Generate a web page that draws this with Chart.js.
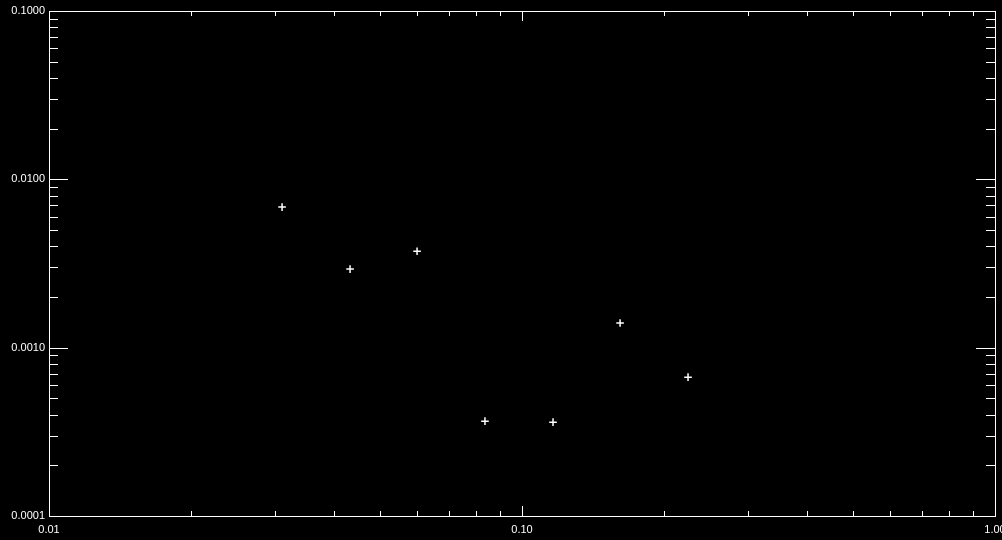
<!DOCTYPE html>
<html>
<head>
<meta charset="utf-8">
<script src="https://cdn.jsdelivr.net/npm/chart.js@4"></script>
<style>
html,body{margin:0;padding:0;background:#000;}
#wrap{width:1002px;height:540px;}
</style>
</head>
<body>
<div id="wrap"><canvas id="c"></canvas></div>
<script>
// Data
const xValues = [0.0311, 0.0433, 0.0600, 0.0835, 0.1163, 0.1612, 0.2244];
const yValues = [0.00684, 0.00293, 0.00374, 0.000366, 0.000361, 0.00140, 0.000668];

// Axis ranges and tick labels
const xRange = [0.01, 1.0];
const yRange = [0.0001, 0.1];
const xMajorTicks = [0.01, 0.1, 1.0];
const xTickLabels = ['0.01', '0.10', '1.00'];
const yMajorTicks = [0.0001, 0.001, 0.01, 0.1];
const yTickLabels = ['0.0001', '0.0010', '0.0100', '0.1000'];
const minorMantissas = [2, 3, 4, 5, 6, 7, 8, 9];

function buildTicks(majors) {
  const t = [];
  majors.forEach((v, i) => {
    t.push({value: v, major: true, idx: i});
    if (i < majors.length - 1) {
      minorMantissas.forEach(m => t.push({value: m * v, major: false}));
    }
  });
  return t;
}

const inwardTicks = {
  id: 'inwardTicks',
  beforeDraw(chart) {
    const ctx = chart.ctx;
    ctx.save();
    ctx.fillStyle = '#000';
    ctx.fillRect(0, 0, chart.width, chart.height);
    ctx.restore();
  },
  afterDraw(chart) {
    const ctx = chart.ctx;
    const a = chart.chartArea;
    const xs = chart.scales.x, ys = chart.scales.y;
    ctx.save();
    ctx.strokeStyle = '#fff';
    ctx.lineWidth = 1;
    ctx.beginPath();
    xs.ticks.forEach(t => {
      const px = Math.round(xs.getPixelForValue(t.value)) + 0.5;
      const len = t.major ? 10 : 5;
      ctx.moveTo(px, a.bottom); ctx.lineTo(px, a.bottom - len);
      ctx.moveTo(px, a.top); ctx.lineTo(px, a.top + len);
    });
    ys.ticks.forEach(t => {
      const py = Math.round(ys.getPixelForValue(t.value)) + 0.5;
      const len = t.major ? 19 : 9;
      ctx.moveTo(a.left, py); ctx.lineTo(a.left + len, py);
      ctx.moveTo(a.right, py); ctx.lineTo(a.right - len, py);
    });
    ctx.stroke();
    // box
    ctx.strokeRect(Math.round(a.left) + 0.5, Math.round(a.top) + 0.5,
                   Math.round(a.right - a.left), Math.round(a.bottom - a.top));
    ctx.restore();
  }
};

new Chart(document.getElementById('c'), {
  type: 'scatter',
  data: {
    datasets: [{
      data: xValues.map((x, i) => ({x: x, y: yValues[i]})),
      pointStyle: 'cross',
      pointRadius: 3.8,
      pointHoverRadius: 3.8,
      borderColor: '#fff',
      backgroundColor: '#fff',
      pointBorderWidth: 1.5
    }]
  },
  options: {
    responsive: true,
    maintainAspectRatio: false,
    animation: false,
    events: [],
    layout: {padding: {top: 11, right: 7, left: 0, bottom: 0}},
    plugins: {legend: {display: false}, tooltip: {enabled: false}},
    scales: {
      x: {
        type: 'logarithmic',
        min: xRange[0], max: xRange[1],
        grid: {display: false, drawTicks: false},
        border: {display: false},
        afterBuildTicks(s) { s.ticks = buildTicks(xMajorTicks); },
        afterFit(s) { s.height = 24; s.paddingLeft = 0; s.paddingRight = 0; },
        ticks: {
          autoSkip: false, maxRotation: 0, minRotation: 0,
          color: '#fff', padding: 7,
          font: {family: 'Liberation Sans', size: 11},
          callback: function(v, i, ticks) {
            const t = ticks[i];
            return t.major ? xTickLabels[t.idx] : '';
          }
        }
      },
      y: {
        type: 'logarithmic',
        min: yRange[0], max: yRange[1],
        grid: {display: false, drawTicks: false},
        border: {display: false},
        afterBuildTicks(s) { s.ticks = buildTicks(yMajorTicks); },
        afterFit(s) { s.width = 49; s.paddingTop = 0; s.paddingBottom = 0; },
        ticks: {
          autoSkip: false,
          color: '#fff', padding: 4,
          font: {family: 'Liberation Sans', size: 11},
          callback: function(v, i, ticks) {
            const t = ticks[i];
            return t.major ? yTickLabels[t.idx] : '';
          }
        }
      }
    }
  },
  plugins: [inwardTicks]
});
</script>
</body>
</html>
